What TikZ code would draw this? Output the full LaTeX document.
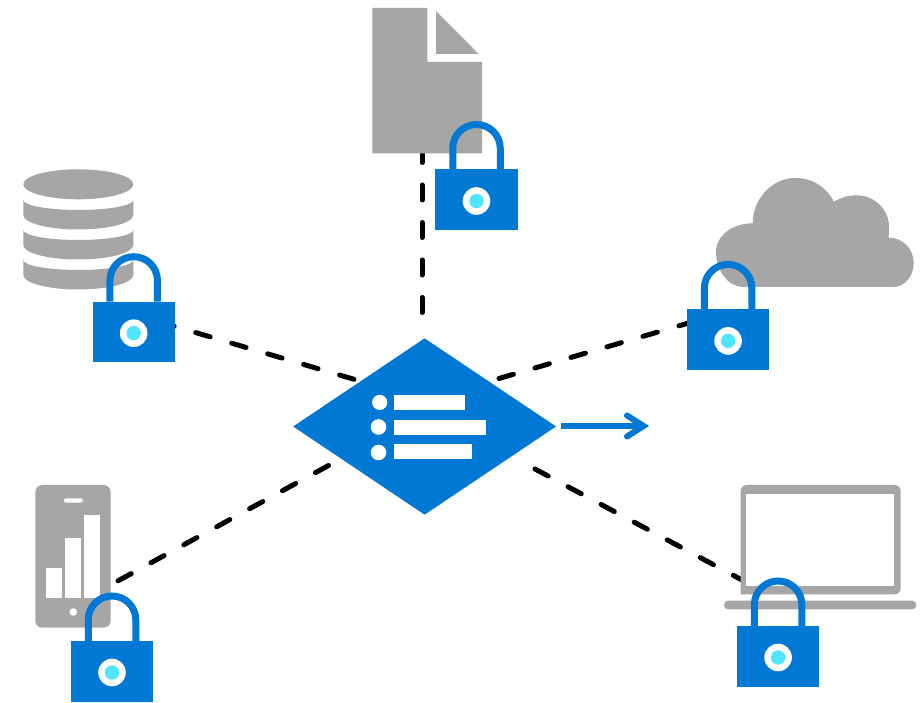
\documentclass[tikz,border=0pt]{standalone}
\usetikzlibrary{shapes.geometric}
\definecolor{azure}{HTML}{0078D4}
\definecolor{eye}{HTML}{50E6FF}
\definecolor{icon}{HTML}{A6A6A6}
\tikzset{
  x=1pt,y=-1pt,
  link/.style={black,line width=5pt,line cap=round,dash pattern=on 15pt off 22.5pt},
  hubshape/.style={diamond,fill=azure,draw=none,inner sep=0pt,minimum width=263pt,minimum height=176.5pt},
  lockicon/.pic={
    \draw[azure,line width=7pt] (-23.75,0) -- (-23.75,-21.3)
      .. controls (-23.75,-34.4) and (-13.1,-45) .. (0,-45)
      .. controls (13.1,-45) and (23.75,-34.4) .. (23.75,-21.3) -- (23.75,0);
    \fill[azure] (-41.2,0) rectangle (41.2,60.8);
    \fill[white] (0,31.5) circle (13.8);
    \fill[eye] (0,31.5) circle (7.2);
  },
  dbband/.pic={
    \fill[icon] (-55,0) .. controls (-55,5.5) and (-30.4,10) .. (0,10)
      .. controls (30.4,10) and (55,5.5) .. (55,0) -- (55,15)
      .. controls (55,23) and (30.4,29.5) .. (0,29.5)
      .. controls (-30.4,29.5) and (-55,23) .. (-55,15) -- cycle;
  }
}
\begin{document}
\begin{tikzpicture}
\useasboundingbox (0,0) rectangle (922,703);
\fill[white] (0,0) rectangle (922,703);
% connector ends
\coordinate (hubN) at (422,312.5);
\coordinate (hubNW) at (354,379.3);
\coordinate (hubNE) at (499,378.5);
\coordinate (hubSW) at (328.5,465.5);
\coordinate (hubSE) at (535,469);
\coordinate (fileEnd) at (422,147);
\coordinate (dbEnd) at (170,325);
\coordinate (cloudEnd) at (692,322);
\coordinate (phoneEnd) at (115,582.5);
\coordinate (laptopEnd) at (742,580);
\coordinate (arrowTip) at (643.5,426);
\draw[link] (hubN) -- (fileEnd);
\draw[link] (hubNW) -- (dbEnd);
\draw[link] (hubNE) -- (cloudEnd);
\draw[link] (hubSW) -- (phoneEnd);
\draw[link] (hubSE) -- (laptopEnd);
% hub
\node[hubshape] (hub) at (424.6,426.5) {};
\fill[white] (379.7,402.4) circle (7.6);
\fill[white] (378.5,427) circle (7.8);
\fill[white] (378.5,452.5) circle (7.8);
\fill[white] (394,395) rectangle (465,410);
\fill[white] (394,420) rectangle (486,435);
\fill[white] (394,444) rectangle (472,459);
% arrow
\draw[azure,line width=6pt] (561,426) -- (arrowTip);
\draw[azure,line width=6pt,line cap=round,line join=miter] (627,415.5) -- (arrowTip) -- (627,436.5);
% file
\fill[icon] (372.3,8) -- (427.3,8) -- (427.3,62) -- (482,62) -- (482,153.3) -- (372.3,153.3) -- cycle;
\fill[icon] (436,11) -- (436,54) -- (478.7,54) -- cycle;
% database
\fill[icon] (78.3,184.3) ellipse [x radius=55, y radius=15];
\pic at (78.3,200) {dbband};
\pic at (78.3,230) {dbband};
\pic at (78.3,260) {dbband};
% cloud
\fill[icon] (743,287)
  .. controls (728,287) and (716,270) .. (716,252)
  .. controls (716,236) and (732,223.3) .. (752.7,223.3)
  .. controls (752.7,199) and (772,178) .. (795,178)
  .. controls (813,178) and (826,187) .. (834,201.7)
  .. controls (841,197.5) and (848,195.3) .. (856.7,195.3)
  .. controls (874,195.3) and (889,209) .. (889,226.7)
  -- (888.7,237.7)
  .. controls (903,237.7) and (913.7,249) .. (913.7,263)
  .. controls (913.7,277) and (904,287) .. (893,287)
  -- cycle;
% phone
\fill[icon,rounded corners=7pt] (35.3,485) rectangle (110.7,627.7);
\fill[white,rounded corners=2pt] (64,498.3) rectangle (82.7,502.7);
\fill[white] (46,567.7) rectangle (62,598);
\fill[white] (65,537.7) rectangle (81,598);
\fill[white] (84,514.7) rectangle (100,598);
\fill[white] (73.3,612) circle (3.8);
% laptop
\fill[icon,rounded corners=6pt] (740.7,594.3) -- (740.7,485) -- (900.7,485) -- (900.7,594.3) [sharp corners] -- cycle;
\fill[white] (746.3,493.7) rectangle (894.3,585.7);
\fill[icon,rounded corners=4pt] (724,600.7) -- (916.3,600.7) -- (916.3,609.3) -- (724,609.3) -- cycle;
% locks
\pic at (476.5,169.5) {lockicon};
\pic at (133.7,301.7) {lockicon};
\pic at (728.1,309.4) {lockicon};
\pic at (112,641) {lockicon};
\pic at (778.1,626) {lockicon};
\end{tikzpicture}
\end{document}
